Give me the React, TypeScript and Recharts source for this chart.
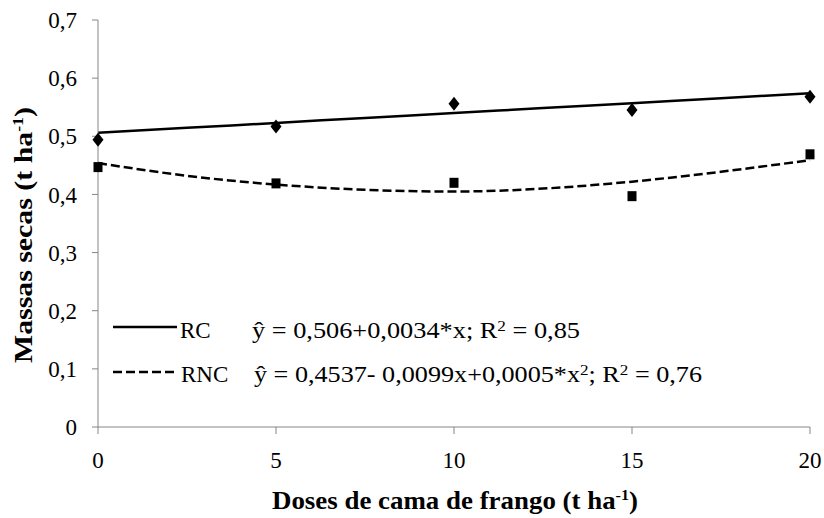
import { ComposedChart, Line, Scatter, XAxis, YAxis } from 'recharts'

// doses of poultry litter (t/ha)
const doses = [0, 5, 10, 15, 20]
// observed dry mass (t/ha)
const rcObserved = [0.494, 0.517, 0.556, 0.545, 0.568]
const rncObserved = [0.447, 0.419, 0.42, 0.397, 0.469]

// fitted curves
const fitDoses = [0, 2.5, 5, 7.5, 10, 12.5, 15, 17.5, 20]
const rcFit = [0.506, 0.5145, 0.523, 0.5315, 0.54, 0.5485, 0.557, 0.5655, 0.574]
const rncFit = [0.454, 0.432, 0.417, 0.408, 0.405, 0.41, 0.422, 0.439, 0.459]

const yTicks = [0, 0.1, 0.2, 0.3, 0.4, 0.5, 0.6, 0.7]

const rcPoints = doses.map((x, i) => ({ x, y: rcObserved[i] }))
const rncPoints = doses.map((x, i) => ({ x, y: rncObserved[i] }))
const rcLine = fitDoses.map((x, i) => ({ x, y: rcFit[i] }))
const rncLine = fitDoses.map((x, i) => ({ x, y: rncFit[i] }))

const FONT = '"Liberation Serif", "Times New Roman", serif'
const AXIS = '#868686'
const DASH = '9 4'

function Diamond(props: any) {
  const { cx, cy } = props
  return <path d={`M${cx},${cy - 7}L${cx + 5.5},${cy}L${cx},${cy + 7}L${cx - 5.5},${cy}Z`} fill="#000" />
}

function Square(props: any) {
  const { cx, cy } = props
  return <rect x={cx - 4.5} y={cy - 5} width={9} height={10} fill="#000" />
}

function EquationLegend() {
  const txt = { fontFamily: FONT, fontSize: 23, fill: '#000' }
  return (
    <svg
      width={824}
      height={518}
      style={{ position: 'absolute', left: 0, top: 0, pointerEvents: 'none' }}
    >
      <line x1={113} y1={327} x2={177} y2={327} stroke="#000" strokeWidth={2.5} />
      <text x={180} y={338} {...txt}>RC</text>
      <text x={252} y={338} {...txt} textLength={328} lengthAdjust="spacingAndGlyphs">
        ŷ = 0,506+0,0034*x; R<tspan fontSize={15} dy={-7}>2</tspan>
        <tspan dy={7}> = 0,85</tspan>
      </text>
      <line x1={113} y1={372} x2={178} y2={372} stroke="#000" strokeWidth={2.5} strokeDasharray={DASH} />
      <text x={181} y={382} {...txt}>RNC</text>
      <text x={254} y={382} {...txt} textLength={448} lengthAdjust="spacingAndGlyphs">
        ŷ = 0,4537- 0,0099x+0,0005*x<tspan fontSize={15} dy={-7}>2</tspan>
        <tspan dy={7}>; R</tspan>
        <tspan fontSize={15} dy={-7}>2</tspan>
        <tspan dy={7}> = 0,76</tspan>
      </text>
    </svg>
  )
}

function XTitle() {
  return (
    <text
      x={272}
      y={509}
      fontFamily={FONT}
      fontSize={25}
      fontWeight="bold"
      fill="#000"
      textLength={366}
      lengthAdjust="spacingAndGlyphs"
    >
      Doses de cama de frango (t ha<tspan fontSize={15} dy={-9}>-1</tspan>
      <tspan dy={9}>)</tspan>
    </text>
  )
}

function YTitle() {
  const x = 32
  const cy = 235
  return (
    <text
      x={x}
      y={cy}
      transform={`rotate(-90 ${x} ${cy})`}
      textAnchor="middle"
      fontFamily={FONT}
      fontSize={25}
      fontWeight="bold"
      fill="#000"
      textLength={256}
      lengthAdjust="spacingAndGlyphs"
    >
      Massas secas (t ha<tspan fontSize={15} dy={-9}>-1</tspan>
      <tspan dy={9}>)</tspan>
    </text>
  )
}

export default function App() {
  return (
    <div style={{ position: 'absolute', left: 0, top: 0, width: 824, height: 518, background: '#fff' }}>
      <ComposedChart width={824} height={518} margin={{ top: 20, right: 14, bottom: 0, left: 0 }}>
        <XAxis
          type="number"
          dataKey="x"
          domain={[0, 20]}
          ticks={doses}
          height={91}
          stroke={AXIS}
          tickSize={7}
          tickMargin={18}
          tick={{ fontFamily: FONT, fontSize: 23, fill: '#000' }}
          label={<XTitle />}
        />
        <YAxis
          type="number"
          dataKey="y"
          domain={[0, 0.7]}
          ticks={yTicks}
          width={98}
          stroke={AXIS}
          tickSize={6}
          tickMargin={15}
          tickFormatter={(v: number) => (v === 0 ? '0' : v.toFixed(1).replace('.', ','))}
          tick={{ fontFamily: FONT, fontSize: 23, fill: '#000' }}
          label={<YTitle />}
        />
        <Line
          data={rcLine}
          dataKey="y"
          type="monotone"
          stroke="#000"
          strokeWidth={2.5}
          dot={false}
          activeDot={false}
          isAnimationActive={false}
        />
        <Line
          data={rncLine}
          dataKey="y"
          type="monotone"
          stroke="#000"
          strokeWidth={2.5}
          strokeDasharray={DASH}
          dot={false}
          activeDot={false}
          isAnimationActive={false}
        />
        <Scatter data={rcPoints} dataKey="y" shape={<Diamond />} isAnimationActive={false} />
        <Scatter data={rncPoints} dataKey="y" shape={<Square />} isAnimationActive={false} />
      </ComposedChart>
      <EquationLegend />
    </div>
  )
}
